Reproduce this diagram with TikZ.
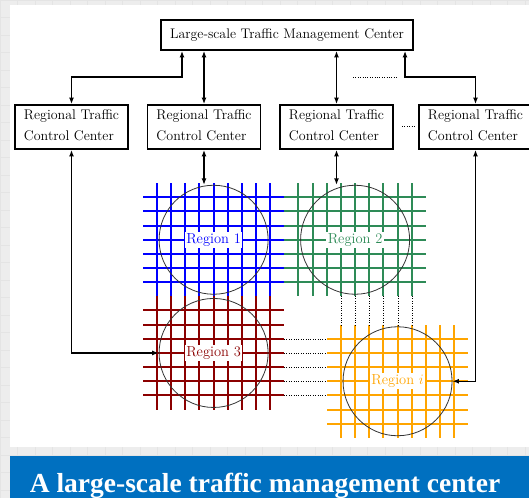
\documentclass[tikz,border=0pt]{standalone}
\usepackage{fontspec}
\newfontfamily\bannerfont{Liberation Serif}
\usetikzlibrary{arrows.meta}
\definecolor{bgray}{HTML}{EDEDED}
\definecolor{gline}{HTML}{E4E4E4}
\definecolor{bannerblue}{HTML}{0070C0}
\definecolor{rgreen}{HTML}{2E8B57}
\definecolor{rred}{HTML}{8B0000}
\definecolor{rorange}{HTML}{FFA500}
\def\sx{14.15}
\def\XO{157}
\def\YO{197.3}
\newcommand\regiongrid[3]{%
  \foreach \i in {0,...,8}{\draw[gridline,#1] ({round(\XO+(#2+\i)*\sx)},{round(\YO+(#3-1)*\sx)}) -- ({round(\XO+(#2+\i)*\sx)},{round(\YO+(#3+7)*\sx)});}
  \foreach \j in {0,...,6}{\draw[gridline,#1] ({round(\XO+(#2-1)*\sx)},{round(\YO+(#3+\j)*\sx)}) -- ({round(\XO+(#2+9)*\sx)},{round(\YO+(#3+\j)*\sx)});}
}
\tikzset{
  topbox/.style={draw, line width=1.8pt, fill=white, font=\fontsize{13.9}{20}\selectfont, minimum width=252pt, minimum height=30pt, inner sep=0pt},
  regbox/.style={draw, line width=1.8pt, fill=white, font=\fontsize{14}{21}\selectfont, align=left, minimum width=113pt, minimum height=44pt, inner sep=0pt},
  conn/.style={<->, >={Latex[length=6.5pt,width=5pt]}, line width=1.5pt},
  gridline/.style={line width=2pt},
  dotline/.style={line width=1pt, dash pattern=on 1pt off 1.4pt},
  regcircle/.style={circle, draw=black!80, line width=0.8pt, minimum size=109pt, inner sep=0pt},
  reglabel/.style={fill=white, inner sep=1.5pt, font=\fontsize{14.5}{17}\selectfont},
}
\begin{document}
\begin{tikzpicture}[x=1pt,y=-1pt]
\useasboundingbox (0,0) rectangle (529,498);
% background
\fill[bgray] (0,0) rectangle (529,498);
\foreach \g in {0,17.5,...,530}{\draw[gline, line width=0.6pt] (\g,0) -- (\g,498);}
\foreach \g in {0,17.5,...,500}{\draw[gline, line width=0.6pt] (0,\g) -- (529,\g);}
\fill[white] (10,5) rectangle (529,447);
\fill[bannerblue] (10,456) rectangle (529,498);
\node[anchor=base, text=white, font=\bannerfont\bfseries\fontsize{27.5}{30}\selectfont] (btitle) at (265,492) {A large-scale traffic management center};
% grids
\regiongrid{blue}{0}{0}
\regiongrid{rgreen}{10}{0}
\regiongrid{rred}{0}{8}
\regiongrid{rorange}{13}{10}
\foreach \i in {13,...,18}{\draw[dotline] ({round(\XO+\i*\sx)},{round(\YO+7*\sx)}) -- ({round(\XO+\i*\sx)},{round(\YO+9*\sx)});}
\foreach \j in {10,...,14}{\draw[dotline] ({round(\XO+9*\sx)},{round(\YO+\j*\sx)}) -- ({round(\XO+12*\sx)},{round(\YO+\j*\sx)});}
% circles
\node[regcircle] (c1) at ({\XO+4*\sx},{\YO+3*\sx}) {};
\node[regcircle] (c2) at ({\XO+14*\sx},{\YO+3*\sx}) {};
\node[regcircle] (c3) at ({\XO+4*\sx},{\YO+11*\sx}) {};
\node[regcircle] (c4) at ({\XO+17*\sx},{\YO+13*\sx}) {};
\node[reglabel, text=blue] (l1) at (c1) {Region 1};
\node[reglabel, text=rgreen] (l2) at (c2) {Region 2};
\node[reglabel, text=rred] (l3) at (c3) {Region 3};
\node[reglabel, text=rorange] (l4) at (c4) {Region $i$};
% boxes
\node[topbox] (top) at (287,35) {Large-scale Traffic Management Center};
\node[regbox] (r1) at (71.5,127) {Regional Traffic\\Control Center\vphantom{g}};
\node[regbox] (r2) at (204,127) {Regional Traffic\\Control Center\vphantom{g}};
\node[regbox] (r3) at (336.5,127) {Regional Traffic\\Control Center\vphantom{g}};
\node[regbox] (r4) at (475.5,127) {Regional Traffic\\Control Center\vphantom{g}};
% connectors
\coordinate (k1) at (182,77);
\coordinate (k4) at (405,77);
\draw[conn] (top.south -| k1) -- (k1) -| (r1.north);
\draw[conn] (top.south -| r2.north) -- (r2.north);
\draw[conn] (top.south -| r3.north) -- (r3.north);
\draw[conn] (top.south -| k4) -- (k4) -| (r4.north);
\draw[conn] (r2.south) -- (r2.south |- c1.north);
\draw[conn] (r3.south) -- (r3.south |- c2.north);
\draw[conn] (r1.south) |- (c3.west);
\draw[conn] (r4.south) |- (c4.east);
% dotted ellipses
\draw[dotline] (353,77) -- (397,77);
\draw[dotline, line width=0.7pt] (402,126) -- (415,126);
\end{tikzpicture}
\end{document}
